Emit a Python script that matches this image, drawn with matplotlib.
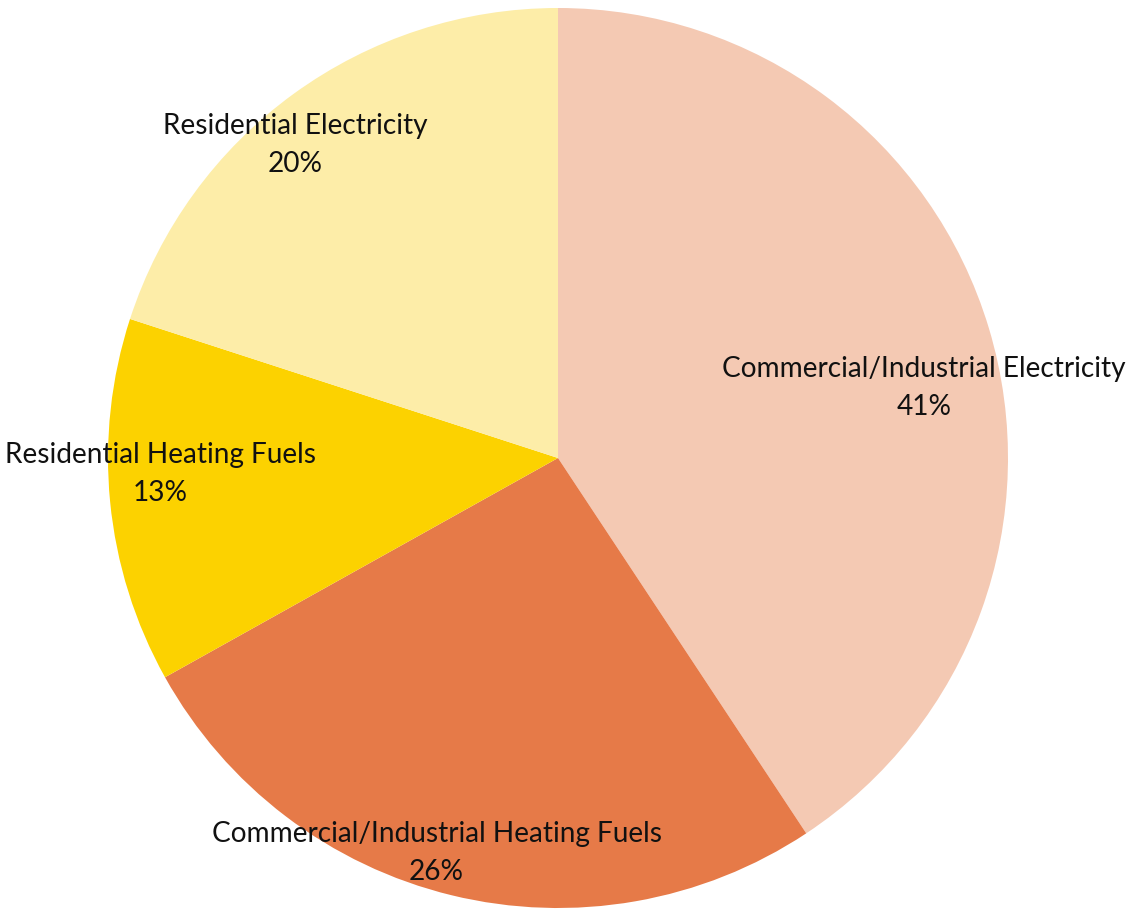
import matplotlib
matplotlib.use("Agg")
import matplotlib.pyplot as plt

categories = ["Commercial/Industrial Electricity", "Commercial/Industrial Heating Fuels",
              "Residential Heating Fuels", "Residential Electricity"]
values = [40.7, 26.2, 13.1, 20.0]
colors = ["#F4C9B3", "#E67A48", "#FCD200", "#FDEDA8"]
# label centre positions in data units (pie radius = 1)
label_pos = [(0.813, 0.155), (-0.27, -0.878), (-0.884, -0.036), (-0.584, 0.696)]

W, H = 1127, 909
fig = plt.figure(figsize=(W / 100, H / 100), dpi=100)
cx, cy, r = 558, 458, 450
ax = fig.add_axes([(cx - r) / W, (H - cy - r) / H, 2 * r / W, 2 * r / H])
ax.pie(values, colors=colors, startangle=90, counterclock=False, radius=1,
       wedgeprops=dict(linewidth=0))
ax.set_xlim(-1, 1)
ax.set_ylim(-1, 1)
ax.set_aspect("equal")
ax.axis("off")

total = sum(values)
for name, v, (x, y) in zip(categories, values, label_pos):
    ax.text(x, y, f"{name}\n{round(v / total * 100)}%", ha="center", va="center",
            fontsize=20.2, family=["Lato", "DejaVu Sans"], color="#111111",
            linespacing=1.55)

fig.savefig("out.png", dpi=100)
